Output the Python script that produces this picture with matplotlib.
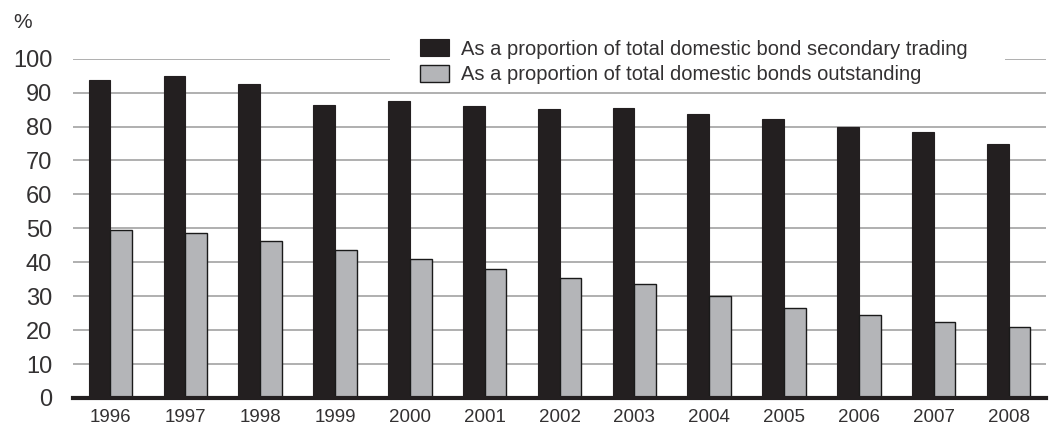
import numpy as np
import matplotlib.pyplot as plt
from matplotlib.patches import Rectangle

years = ["1996", "1997", "1998", "1999", "2000", "2001", "2002",
         "2003", "2004", "2005", "2006", "2007", "2008"]
share_trading = [93.8, 95.0, 92.6, 86.5, 87.5, 86.1, 85.2, 85.4, 83.6, 82.3, 80.0, 78.4, 74.8]
share_outstanding = [49.5, 48.6, 46.4, 43.7, 41.0, 38.0, 35.5, 33.5, 30.0, 26.6, 24.5, 22.4, 20.9]
yticks = list(range(0, 101, 10))

TEXT = "#333132"
DARK = "#231f20"
LIGHT = "#b4b5b8"

plt.rcParams['font.family'] = ['Liberation Sans', 'DejaVu Sans']

fig = plt.figure(figsize=(10.59, 4.29), dpi=100)
ax = fig.add_axes([73 / 1059, 1 - 398 / 429, 973 / 1059, (398 - 58.7) / 429])

x = np.arange(len(years))
w = 0.29
ax.bar(x - w / 2, share_trading, w, color=DARK, edgecolor=DARK, linewidth=0.8,
       zorder=3, label="As a proportion of total domestic bond secondary trading")
ax.bar(x + w / 2, share_outstanding, w, color=LIGHT, edgecolor="#1a1a1a", linewidth=1.0,
       zorder=3, label="As a proportion of total domestic bonds outstanding")

ax.set_xlim(-0.5, len(years) - 0.5)
ax.set_ylim(0, 100)
ax.set_yticks(yticks)
ax.set_xticks(x)
ax.set_xticklabels(years)
ax.yaxis.grid(True, color="#9a9a9a", linewidth=1.1, zorder=0)
ax.set_axisbelow(True)

for s in ["top", "right", "left"]:
    ax.spines[s].set_visible(False)
ax.spines["bottom"].set_linewidth(3)
ax.spines["bottom"].set_color(DARK)
ax.spines["bottom"].set_zorder(4)

ax.tick_params(axis="y", length=0, pad=15, labelsize=17, labelcolor=TEXT)
ax.tick_params(axis="x", length=0, pad=8, labelsize=13.5, labelcolor=TEXT)

# white panel behind the legend, hiding the top gridline
ax.add_patch(Rectangle((390 / 1059, 1 - 86 / 429), 615 / 1059, 52 / 429,
                       transform=fig.transFigure, facecolor="white",
                       edgecolor="none", zorder=2))

leg = fig.legend(loc="upper left", bbox_to_anchor=(406 / 1059, 1 - 25 / 429),
                 frameon=False, fontsize=14.5, handlelength=1.44, handleheight=0.95,
                 handletextpad=0.6, labelspacing=0.3, borderpad=0.2)
for t in leg.get_texts():
    t.set_color(TEXT)

fig.text(13 / 1059, 1 - 28 / 429, "%", fontsize=15, color=TEXT, va="baseline")

fig.savefig("out.png", dpi=100)
